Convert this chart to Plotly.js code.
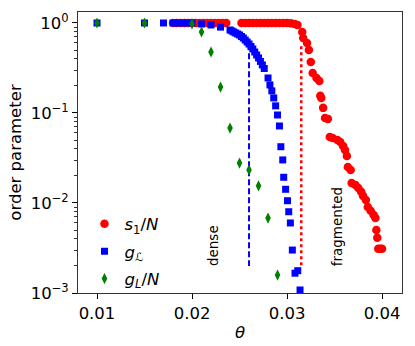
<!DOCTYPE html>
<html>
<head>
<meta charset="utf-8">
<script src="https://cdn.plot.ly/plotly-3.0.1.min.js"></script>
<style>
  body { margin: 0; padding: 0; background: #fff; }
  #chart { width: 415px; height: 346px; }
</style>
</head>
<body>
<div id="chart"></div>
<script>
// s1/N (red circles)
var s1Theta = [0.0180, 0.0184, 0.0188, 0.0192, 0.0196, 0.0200, 0.0204, 0.0208, 0.0212, 0.0216,
	0.0220, 0.0224, 0.0228, 0.0232, 0.0236, 0.0252, 0.0256, 0.0260, 0.0264, 0.0268,
	0.0272, 0.0276, 0.0280, 0.0284, 0.0288, 0.0292, 0.0296, 0.0300, 0.0304, 0.0308,
	0.0311, 0.0316, 0.0317, 0.0321, 0.0323, 0.0325, 0.0327, 0.0331, 0.0334, 0.0335,
	0.0336, 0.0338, 0.0340, 0.0343, 0.0345, 0.0348, 0.0353, 0.0356, 0.0359, 0.0361,
	0.0363, 0.0364, 0.0367, 0.0368, 0.0372, 0.0375, 0.0378, 0.0380, 0.0383, 0.0385,
	0.0388, 0.0391, 0.0393, 0.0394, 0.0395, 0.0396, 0.0398, 0.0400];
var s1Val = [1, 1, 1, 1, 1, 1, 1, 1, 1, 1,
	1, 1, 1, 1, 1, 1, 1, 1, 1, 1,
	1, 1, 1, 1, 1, 1, 1, 1, 0.99, 0.975,
	0.95, 0.794, 0.681, 0.60, 0.50, 0.368, 0.278, 0.245, 0.227, 0.155,
	0.147, 0.114, 0.088, 0.086, 0.054, 0.0527, 0.050, 0.0476, 0.043, 0.0388,
	0.0333, 0.0251, 0.0233, 0.0167, 0.0158, 0.0147, 0.0133, 0.012, 0.0108, 0.009,
	0.0082, 0.0074, 0.0068, 0.005, 0.0041, 0.0031, 0.0031, 0.0031];

// g_C (blue squares)
var gcTheta = [0.010, 0.015, 0.017, 0.018, 0.0185, 0.019, 0.0195, 0.020, 0.021, 0.022, 0.023,
	0.0240, 0.0242, 0.0244, 0.0246, 0.0248, 0.0250, 0.0252, 0.0254, 0.0256, 0.0258,
	0.0260, 0.0262, 0.0264, 0.0266, 0.0268, 0.0270, 0.0272, 0.0274, 0.0276,
	0.0280, 0.0282, 0.0284, 0.0286, 0.0288, 0.0290, 0.0292,
	0.02935, 0.02955, 0.02965, 0.02985, 0.03005, 0.03018, 0.03035, 0.03056, 0.03084, 0.03113, 0.03137];
var gcVal = [1, 1, 1, 1, 1, 1, 1, 1, 0.975, 0.95, 0.90,
	0.836, 0.815, 0.794, 0.774, 0.755, 0.736, 0.708, 0.681, 0.647, 0.615,
	0.584, 0.548, 0.514, 0.476, 0.441, 0.409, 0.374, 0.342, 0.312,
	0.245, 0.205, 0.176, 0.147, 0.120, 0.095, 0.0717,
	0.0422, 0.0301, 0.0193, 0.0142, 0.0106, 0.0080, 0.0060, 0.0030, 0.00166, 0.00177, 0.00108];

// g_L/N (green diamonds)
var glTheta = [0.010, 0.015, 0.020, 0.021, 0.022, 0.023, 0.024, 0.025, 0.026, 0.027, 0.028, 0.029];
var glVal = [1, 1, 0.975, 0.794, 0.476, 0.194, 0.068, 0.0278, 0.0233, 0.0155, 0.0068, 0.00158];

// transition markers
var denseTheta = [0.026, 0.026];
var denseVal = [0.58, 0.002];
var fragTheta = [0.0315, 0.0315];
var fragVal = [0.55, 0.002];

var xTicks = [0.01, 0.02, 0.03, 0.04];
var xTickText = ["0.01", "0.02", "0.03", "0.04"];
var yTicks = [1, 0.1, 0.01, 0.001];
var yTickText = ["10<sup>0</sup>", "10<sup>\u22121</sup>", "10<sup>\u22122</sup>", "10<sup>\u22123</sup>"];
var yMinor = [0.002, 0.003, 0.004, 0.005, 0.006, 0.007, 0.008, 0.009,
	0.02, 0.03, 0.04, 0.05, 0.06, 0.07, 0.08, 0.09,
	0.2, 0.3, 0.4, 0.5, 0.6, 0.7, 0.8, 0.9];

var fnt = "DejaVu Sans, sans-serif";

var line_dense = {
	x: denseTheta, y: denseVal, mode: "lines", showlegend: false, hoverinfo: "skip",
	line: { color: "#0000ff", width: 2, dash: "6px,3px" }
};
var line_frag = {
	x: fragTheta, y: fragVal, mode: "lines", showlegend: false, hoverinfo: "skip",
	line: { color: "#ff0000", width: 2.5, dash: "dot" }
};
var plot_s1 = {
	x: s1Theta, y: s1Val, mode: "markers", name: "<i>s</i><sub>1</sub>/<i>N</i>",
	legendgroup: "a",
	marker: { symbol: "circle", color: "#ff0000", size: 8.5 }
};
var plot_gc = {
	x: gcTheta, y: gcVal, mode: "markers", name: "<i>g</i><sub>\u2112</sub>",
	legendgroup: "b",
	marker: { symbol: "square", color: "#0000ff", size: 7 }
};
var plot_gl = {
	x: glTheta, y: glVal, mode: "markers", name: "<i>g</i><sub><i>L</i></sub>/<i>N</i>",
	legendgroup: "c",
	marker: { symbol: "diamond-tall", color: "#008000", size: 8 }
};

var layout = {
	width: 415,
	height: 346,
	margin: { l: 78, r: 13, t: 12, b: 53 },
	paper_bgcolor: "#fff",
	plot_bgcolor: "#fff",
	font: { family: fnt, size: 16.5, color: "#000" },
	showlegend: true,
	legend: {
		x: 0.02, y: 0.308, xanchor: "left", yanchor: "top",
		bgcolor: "rgba(255,255,255,0)",
		font: { family: fnt, size: 16.5 },
		tracegroupgap: 3
	},
	xaxis: {
		range: [0.008, 0.0421],
		tickmode: "array", tickvals: xTicks, ticktext: xTickText,
		ticks: "outside", ticklen: 5, tickwidth: 1, tickcolor: "#000",
		showline: true, linecolor: "#333", linewidth: 1, mirror: true,
		showgrid: false, zeroline: false,
		title: { text: "<i>\u03b8</i>", font: { family: fnt, size: 16.5 }, standoff: 4 }
	},
	yaxis: {
		type: "log",
		range: [-3, 0.122],
		tickmode: "array", tickvals: yTicks, ticktext: yTickText,
		ticks: "outside", ticklen: 5, tickwidth: 1, tickcolor: "#000",
		minor: { tickmode: "array", tickvals: yMinor, ticks: "outside", ticklen: 3, tickwidth: 0.8, tickcolor: "#000" },
		showline: true, linecolor: "#333", linewidth: 1, mirror: true,
		showgrid: false, zeroline: false,
		title: { text: "order parameter", font: { family: fnt, size: 16.5 }, standoff: 4 }
	},
	annotations: [
		{ x: 0.0222, y: Math.log10(0.0034), xref: "x", yref: "y", text: "dense", showarrow: false,
			textangle: -90, font: { family: fnt, size: 13.5, color: "#000" } },
		{ x: 0.03525, y: Math.log10(0.0055), xref: "x", yref: "y", text: "fragmented", showarrow: false,
			textangle: -90, font: { family: fnt, size: 13.5, color: "#000" } }
	]
};

Plotly.newPlot("chart", [line_dense, line_frag, plot_s1, plot_gc, plot_gl], layout, { displayModeBar: false, staticPlot: true });
</script>
</body>
</html>
